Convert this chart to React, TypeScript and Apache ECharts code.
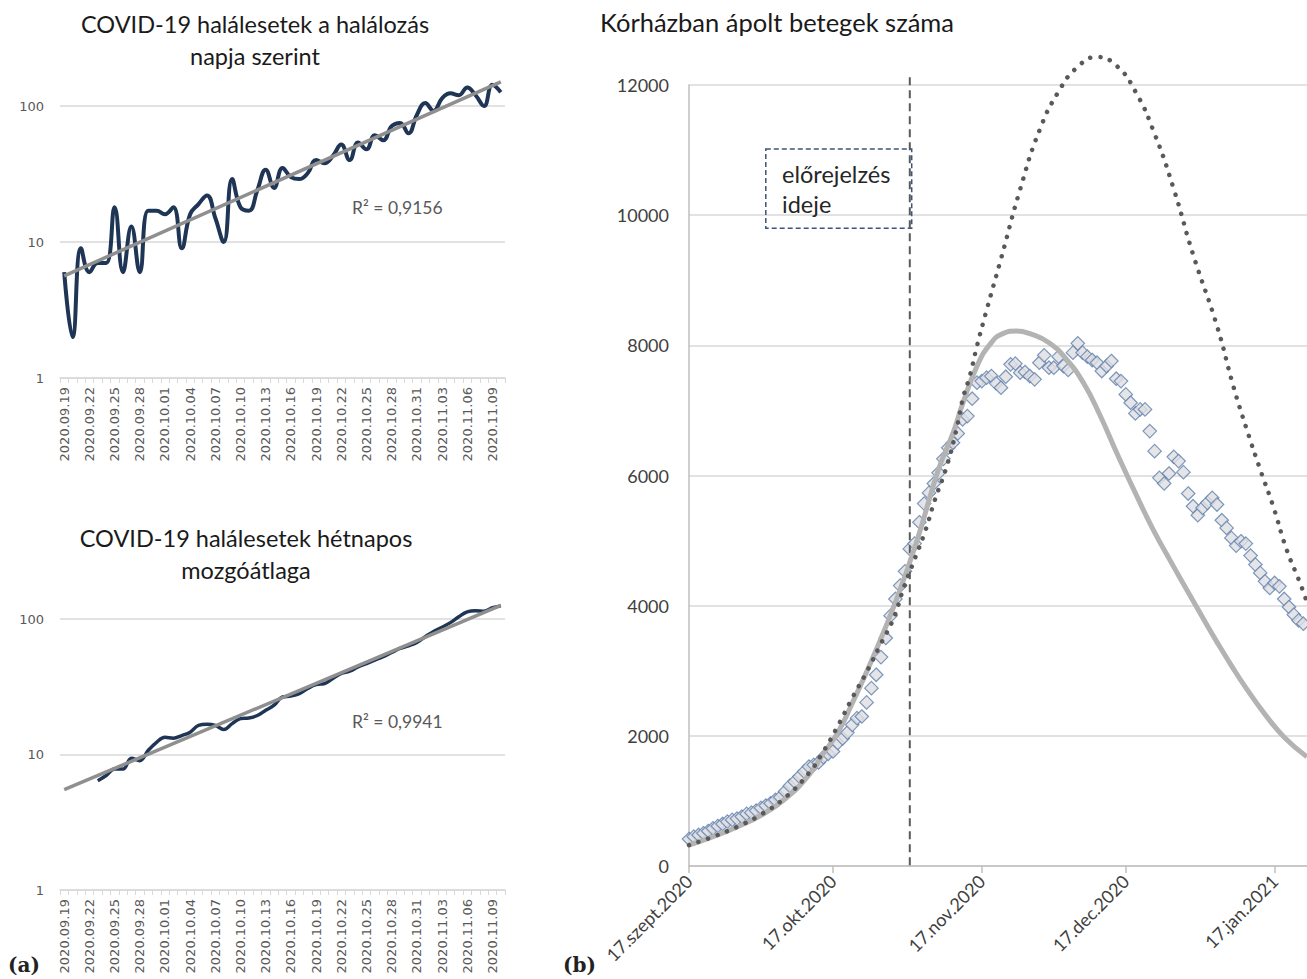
import React, { useEffect, useRef } from "react";
import * as echarts from "echarts";

// ---------- Left panels (log scale) ----------
const leftStart = { y: 2020, m: 8, d: 19 }; // 2020.09.19
const leftCount = 53;
const dailyDeaths = [6, 2, 9, 6, 7, 7, 18, 6, 13, 6, 17, 17, 16, 18, 9, 16, 19, 22, 15, 10, 29, 18, 17, 24, 34, 25, 35, 30, 29, 32, 40, 38, 43, 52, 40, 54, 48, 61, 56, 71, 75, 63, 86, 105, 92, 114, 124, 120, 137, 120, 100, 143, 126];
const dailyTrend = [5.64, 150.7]; // exponential trend endpoints
const movingAvg = [null, null, null, null, 6.4, 7.0, 7.8, 7.8, 9.4, 9.0, 10.7, 12.3, 13.4, 13.2, 13.8, 14.6, 16.4, 16.7, 16.4, 15.3, 16.9, 18.4, 18.6, 19.4, 21.2, 23.1, 26.6, 27.0, 28.1, 30.7, 32.8, 33.4, 36.4, 39.6, 41.2, 44.3, 46.9, 49.8, 52.7, 56.6, 60.6, 63.4, 67.2, 74, 81, 87, 94, 104, 113, 115, 114, 121, 125];
const avgTrend = [5.5, 126];

// ---------- Right panel (x = days since 17 Sept 2020) ----------
const DAY = 86400000;
const START = Date.UTC(2020, 8, 17);
const hospital = [415, 451, 477, 503, 538, 579, 615, 646, 682, 708, 728, 759, 800, 820, 851, 892, 928, 964, 1015, 1056, 1144, 1231, 1297, 1374, 1451, 1528, 1554, 1590, 1672, 1723, 1760, 1890, 1960, 2050, 2169, 2272, 2297, 2513, 2733, 2938, 3210, 3503, 3846, 4103, 4308, 4528, 4872, 4954, 5282, 5569, 5733, 5877, 6041, 6256, 6426, 6503, 6646, 6862, 6913, 7180, 7426, 7451, 7503, 7528, 7416, 7349, 7518, 7708, 7718, 7580, 7590, 7528, 7477, 7733, 7846, 7656, 7656, 7826, 7682, 7621, 7887, 8031, 7887, 7826, 7774, 7733, 7605, 7682, 7759, 7487, 7451, 7246, 7118, 6954, 7015, 7015, 6682, 6374, 5964, 5877, 6031, 6287, 6221, 6051, 5723, 5528, 5390, 5503, 5580, 5657, 5554, 5313, 5195, 5041, 4923, 4990, 4954, 4769, 4631, 4503, 4374, 4272, 4349, 4297, 4103, 3979, 3862, 3774, 3723];
const modelDays = [0, 5, 10, 15, 20, 25, 28, 31, 34, 38, 43, 47.5, 52, 55, 57, 60, 62.7, 65.5, 68.3, 71, 75, 78.7, 82.2, 85.6, 89.1, 93.3, 96.7, 100.2, 103.7, 107.1, 110, 113, 116, 120, 124, 128.75];
const modelValues = [320, 450, 600, 780, 1030, 1400, 1730, 2050, 2500, 3150, 4050, 5000, 6100, 6650, 7100, 7680, 8015, 8185, 8220, 8180, 8040, 7780, 7420, 6930, 6349, 5682, 5169, 4700, 4245, 3805, 3440, 3080, 2740, 2330, 1980, 1677];
const scenarioDays = [0, 5, 10, 15, 20, 25, 28, 31, 34, 37, 40, 42.6, 44.6, 46.7, 49.2, 51.2, 53.7, 55.8, 57.1, 58.5, 60, 62, 65, 69, 73, 77, 81, 85, 89, 93, 97, 101, 105, 110, 113.4, 116.2, 119, 121.7, 124.5, 127.3, 128.75];
const scenarioValues = [320, 450, 600, 790, 1050, 1430, 1760, 2150, 2580, 2980, 3420, 3800, 4246, 4657, 5143, 5620, 6143, 6734, 7195, 7528, 7990, 8540, 9330, 10400, 11300, 11900, 12280, 12430, 12300, 11900, 11250, 10400, 9400, 8297, 7374, 6708, 6092, 5528, 4862, 4349, 4050];
const forecastDay = 46;
const forecastLineTop = 12120;
const boxDays = [16, 46.4];
const boxValues = [11015, 9800];
const xTickDays = [0, 30, 61, 91, 122];
const xMaxDay = 128.75;
const monthNames = ["jan.", "febr.", "márc.", "ápr.", "máj.", "jún.", "júl.", "aug.", "szept.", "okt.", "nov.", "dec."];

function pad(n: number) {
  return n < 10 ? "0" + n : "" + n;
}

const leftCats: string[] = [];
for (let i = 0; i < leftCount; i++) {
  const dt = new Date(Date.UTC(leftStart.y, leftStart.m, leftStart.d + i));
  leftCats.push(`${dt.getUTCFullYear()}.${pad(dt.getUTCMonth() + 1)}.${pad(dt.getUTCDate())}`);
}

function dayLabel(day: number) {
  const d = new Date(START + Math.round(day) * DAY);
  return `${d.getUTCDate()}.${monthNames[d.getUTCMonth()]}${d.getUTCFullYear()}`;
}

export default function App() {
  const ref = useRef<HTMLDivElement>(null);
  useEffect(() => {
    if (!ref.current) return;
    const chart = echarts.init(ref.current, undefined, { renderer: "svg" });
    const navy = "#1f3555";
    const trendGray = "#8f8f8f";
    const gridGray = "#d9d9d9";

    const leftX = (gi: number) => ({
      type: "category",
      gridIndex: gi,
      data: leftCats,
      boundaryGap: true,
      axisLine: { lineStyle: { color: gridGray, width: 1.5 } },
      axisTick: { show: true, interval: 0, length: 5, lineStyle: { color: gridGray } },
      axisLabel: { interval: 2, rotate: 90, fontSize: 13, fontFamily: "DejaVu Sans", color: "#595959", margin: 9 },
      splitLine: { show: false },
    });
    const leftY = (gi: number) => ({
      type: "log",
      logBase: 10,
      gridIndex: gi,
      min: 1,
      max: 100,
      axisLine: { show: false },
      axisTick: { show: false },
      axisLabel: { fontSize: 13, fontFamily: "DejaVu Sans", color: "#595959", margin: 16 },
      splitLine: { lineStyle: { color: gridGray, width: 1.5 } },
    });

    const texts: any[] = [
      { id: "t1", type: "text", x: 255, y: 8, style: { text: "COVID-19 halálesetek a halálozás\nnapja szerint", fontSize: 23.5, lineHeight: 32, fontFamily: "Lato", fill: "#1a1a1a", align: "center", verticalAlign: "top" } },
      { id: "t2", type: "text", x: 246, y: 522, style: { text: "COVID-19 halálesetek hétnapos\nmozgóátlaga", fontSize: 23.5, lineHeight: 32, fontFamily: "Lato", fill: "#1a1a1a", align: "center", verticalAlign: "top" } },
      { id: "r1", type: "text", x: 352, y: 207, style: { text: "R² = 0,9156", fontSize: 17.5, fontFamily: "Lato", fill: "#595959", align: "left", verticalAlign: "middle" } },
      { id: "r2", type: "text", x: 352, y: 721, style: { text: "R² = 0,9941", fontSize: 17.5, fontFamily: "Lato", fill: "#595959", align: "left", verticalAlign: "middle" } },
      { id: "t3", type: "text", x: 600, y: 22, style: { text: "Kórházban ápolt betegek száma", fontSize: 25.5, fontFamily: "Lato", fill: "#1a1a1a", align: "left", verticalAlign: "middle" } },
      { id: "pa", type: "text", x: 8, y: 965, style: { text: "(a)", fontSize: 20, fontWeight: "bold", fontFamily: "DejaVu Serif", fill: "#222222", align: "left", verticalAlign: "middle" } },
      { id: "pb", type: "text", x: 563, y: 965, style: { text: "(b)", fontSize: 20, fontWeight: "bold", fontFamily: "DejaVu Serif", fill: "#222222", align: "left", verticalAlign: "middle" } },
    ];

    const option: any = {
      animation: false,
      backgroundColor: "#ffffff",
      grid: [
        { left: 60, top: 106, width: 445, height: 272 },
        { left: 60, top: 619, width: 445, height: 271 },
        { left: 689, top: 85, right: 0, height: 781 },
      ],
      xAxis: [
        leftX(0),
        leftX(1),
        {
          type: "value",
          gridIndex: 2,
          min: 0,
          max: xMaxDay,
          axisLine: { lineStyle: { color: "#bfbfbf", width: 1.5 } },
          axisTick: { show: true, customValues: xTickDays, length: 7, lineStyle: { color: "#bfbfbf", width: 1.5 } },
          axisLabel: {
            customValues: xTickDays,
            rotate: 45,
            fontSize: 18,
            fontFamily: "Lato",
            color: "#404040",
            margin: 12,
            formatter: (v: number) => dayLabel(v),
          },
          splitLine: { show: false },
        },
      ],
      yAxis: [
        leftY(0),
        leftY(1),
        {
          type: "value",
          gridIndex: 2,
          min: 0,
          max: 12000,
          interval: 2000,
          axisLine: { show: true, lineStyle: { color: "#bfbfbf", width: 1.5 } },
          axisTick: { show: false },
          axisLabel: { fontSize: 18, fontFamily: "Lato", color: "#404040", margin: 20, formatter: (v: number) => String(v) },
          splitLine: { lineStyle: { color: gridGray, width: 1.5 } },
        },
      ],
      series: [
        {
          type: "line",
          xAxisIndex: 0,
          yAxisIndex: 0,
          data: dailyDeaths,
          smooth: 0.45,
          symbol: "none",
          clip: false,
          lineStyle: { color: navy, width: 4 },
        },
        {
          type: "line",
          xAxisIndex: 0,
          yAxisIndex: 0,
          data: [[0, dailyTrend[0]], [leftCount - 1, dailyTrend[1]]],
          symbol: "none",
          clip: false,
          lineStyle: { color: trendGray, width: 3.5 },
        },
        {
          type: "line",
          xAxisIndex: 1,
          yAxisIndex: 1,
          data: movingAvg,
          smooth: 0.4,
          symbol: "none",
          clip: false,
          lineStyle: { color: navy, width: 3.5 },
        },
        {
          type: "line",
          xAxisIndex: 1,
          yAxisIndex: 1,
          data: [[0, avgTrend[0]], [leftCount - 1, avgTrend[1]]],
          symbol: "none",
          clip: false,
          lineStyle: { color: trendGray, width: 3.5 },
        },
        {
          type: "line",
          xAxisIndex: 2,
          yAxisIndex: 2,
          data: modelDays.map((d, i) => [d, modelValues[i]]),
          smooth: 0.5,
          symbol: "none",
          clip: false,
          lineStyle: { color: "#b3b3b3", width: 5 },
        },
        {
          type: "line",
          xAxisIndex: 2,
          yAxisIndex: 2,
          data: scenarioDays.map((d, i) => [d, scenarioValues[i]]),
          smooth: 0.5,
          symbol: "none",
          clip: false,
          lineStyle: { color: "#595959", width: 4.5, type: [0.1, 10], cap: "round" },
        },
        {
          type: "scatter",
          xAxisIndex: 2,
          yAxisIndex: 2,
          data: hospital.map((v, i) => [i, v]),
          symbol: "diamond",
          symbolSize: 13.5,
          clip: false,
          itemStyle: { color: "#dedfe2", borderColor: "#5f80ad", borderWidth: 1.2 },
          markArea: {
            silent: true,
            itemStyle: { color: "rgba(0,0,0,0)", borderColor: "#3d5478", borderWidth: 1.5, borderType: [5, 3] },
            label: {
              show: true,
              position: "insideLeft",
              distance: 17,
              align: "left",
              formatter: "előrejelzés\nideje",
              fontSize: 23.5,
              lineHeight: 30,
              fontFamily: "Lato",
              color: "#262626",
            },
            data: [[{ coord: [boxDays[0], boxValues[0]] }, { coord: [boxDays[1], boxValues[1]] }]],
          },
        },
      ],
      graphic: texts,
    };
    chart.setOption(option);

    // forecast-time dashed line, placed through the axis scales
    const p1 = chart.convertToPixel({ gridIndex: 2 }, [forecastDay, forecastLineTop]) as number[];
    const p0 = chart.convertToPixel({ gridIndex: 2 }, [forecastDay, 0]) as number[];
    if (p1 && p0) {
      chart.setOption({
        graphic: [
          ...texts,
          {
            id: "forecastLine",
            type: "line",
            silent: true,
            z: 3,
            shape: { x1: p1[0], y1: p1[1], x2: p0[0], y2: p0[1] },
            style: { stroke: "#5a5a5a", lineWidth: 2, lineDash: [8, 5] },
          },
        ],
      });
    }
    return () => chart.dispose();
  }, []);
  return (
    <div
      ref={ref}
      style={{ position: "fixed", left: 0, top: 0, width: 1307, height: 979, background: "#fff" }}
    />
  );
}
